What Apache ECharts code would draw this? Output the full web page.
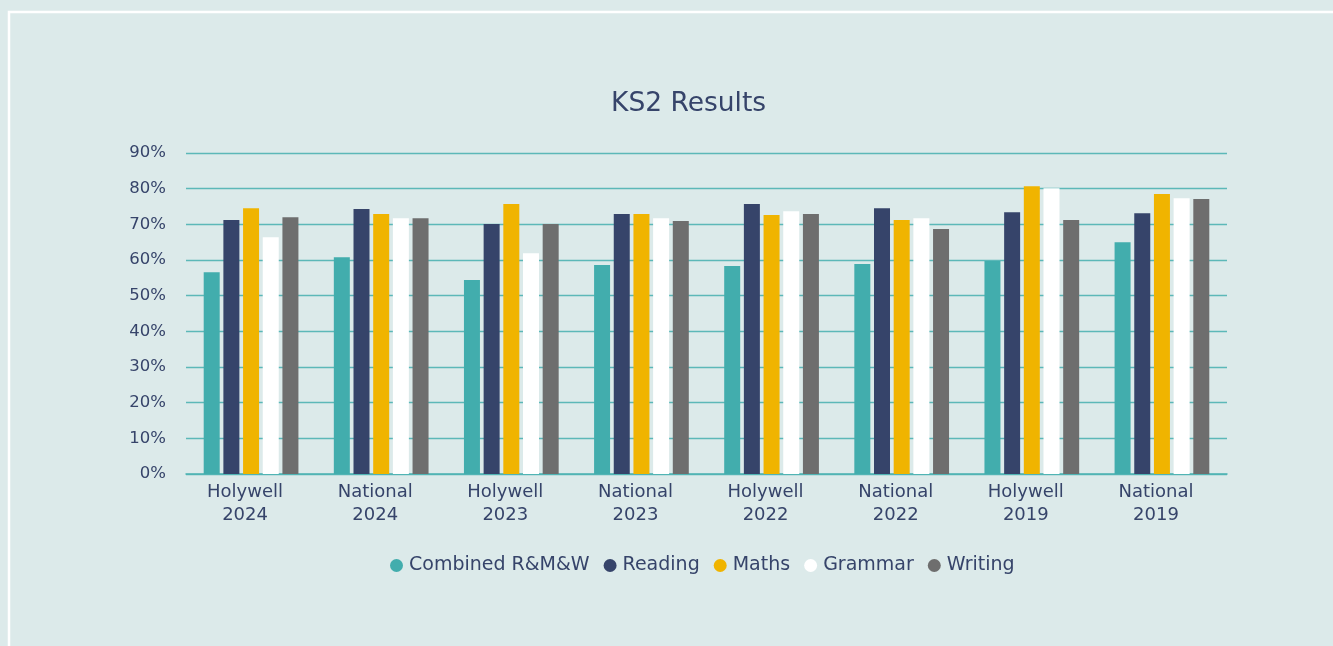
<!DOCTYPE html>
<html>
<head>
<meta charset="utf-8">
<script src="https://cdn.jsdelivr.net/npm/echarts@6/dist/echarts.min.js"></script>
<style>
html,body{margin:0;padding:0;background:#dceaea;}
#chart{width:1333px;height:646px;}
</style>
</head>
<body>
<div id="chart"></div>
<script>
const categories = ['Holywell\n2024','National\n2024','Holywell\n2023','National\n2023','Holywell\n2022','National\n2022','Holywell\n2019','National\n2019'];
const combined = [56.6, 60.8, 54.4, 58.6, 58.3, 58.9, 59.7, 65.0];
const reading  = [71.2, 74.3, 70.1, 72.9, 75.7, 74.5, 73.4, 73.1];
const maths    = [74.5, 72.9, 75.7, 72.9, 72.6, 71.2, 80.7, 78.5];
const grammar  = [66.4, 71.7, 61.9, 71.7, 73.7, 71.7, 80.1, 77.3];
const writing  = [72.0, 71.7, 70.1, 70.9, 72.9, 68.7, 71.2, 77.1];
const seriesNames = ['Combined R&M&W','Reading','Maths','Grammar','Writing'];
const colors = ['#42adad','#36446a','#f0b400','#ffffff','#6e6e6e'];
const seriesData = [combined, reading, maths, grammar, writing];

const FONT = 'DejaVu Sans';
const TXT = '#36446a';
const chart = echarts.init(document.getElementById('chart'), null, {renderer:'canvas'});
chart.setOption({
  backgroundColor: '#dceaea',
  animation: false,
  color: colors,
  title: {
    text: 'KS2 Results', left: 606, top: 86,
    textStyle: {fontFamily: FONT, fontSize: 26.5, fontWeight: 'normal', color: TXT}
  },
  graphic: [{
    type: 'rect', silent: true,
    shape: {x: 9, y: 12, width: 1400, height: 700},
    style: {fill: 'none', stroke: '#ffffff', lineWidth: 2.5}
  }],
  legend: {
    bottom: 66, left: 385,
    icon: 'circle', itemWidth: 13, itemHeight: 13, itemGap: 14,
    textStyle: {fontFamily: FONT, fontSize: 19, color: TXT, padding: [0,0,0,1]},
    data: seriesNames
  },
  grid: {left: 186, right: 106, top: 153, bottom: 172, containLabel: false},
  xAxis: {
    type: 'category', data: categories,
    axisLine: {show: true, lineStyle: {color: '#4db3b3', width: 1.5}},
    axisTick: {show: false},
    axisLabel: {fontFamily: FONT, fontSize: 18, color: TXT, lineHeight: 23, margin: 7, padding: [0,12,0,0]}
  },
  yAxis: {
    type: 'value', min: 0, max: 90, interval: 10,
    axisLine: {show: false}, axisTick: {show: false},
    axisLabel: {formatter: '{value}%', fontFamily: FONT, fontSize: 16.5, color: TXT, margin: 20},
    splitLine: {lineStyle: {color: '#5cb8b8', width: 1.3}}
  },
  series: seriesNames.map((n, i) => ({
    name: n, type: 'bar', data: seriesData[i],
    barWidth: 16, barGap: '23%',
    itemStyle: {color: colors[i]}
  }))
});
</script>
</body>
</html>
